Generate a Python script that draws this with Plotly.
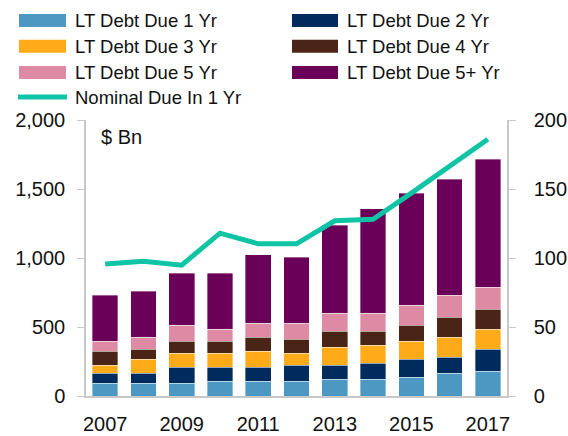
import plotly.graph_objects as go

# Datos ($ Bn, eje izquierdo) y linea nominal (eje derecho)
years = [2007, 2008, 2009, 2010, 2011, 2012, 2013, 2014, 2015, 2016, 2017]
due_1 = [92, 92, 92, 107, 107, 107, 121, 121, 136, 165, 179]
due_2 = [72, 72, 116, 102, 102, 116, 102, 117, 130, 116, 160]
due_3 = [58, 102, 102, 102, 116, 87, 131, 130, 131, 145, 144]
due_4 = [102, 73, 87, 87, 102, 102, 116, 102, 116, 145, 145]
due_5 = [73, 86, 116, 86, 102, 116, 131, 131, 145, 159, 159]
due_5p = [333, 334, 377, 406, 494, 479, 638, 755, 812, 842, 929]
nominal = [95.7, 97.7, 94.8, 118, 110.3, 110.3, 127, 128, 147, 166, 186]

bar_names = ['LT Debt Due 1 Yr', 'LT Debt Due 2 Yr', 'LT Debt Due 3 Yr',
             'LT Debt Due 4 Yr', 'LT Debt Due 5 Yr', 'LT Debt Due 5+ Yr']
bar_colors = ['#4d98c3', '#002b5c', '#ffab19', '#4a2416', '#de8aa4', '#6a0058']
line_name = 'Nominal Due In 1 Yr'
line_color = '#0fc4a5'

left_ticks = [0, 500, 1000, 1500, 2000]
right_ticks = [0, 50, 100, 150, 200]
x_ticks = [2007, 2009, 2011, 2013, 2015, 2017]

FONT = 'Liberation Sans'
W, H = 568, 436
ML, MR, MT, MB = 86, 61, 120, 40


def px(x):
    return (x - ML) / (W - ML - MR)


def py(y):
    return (H - MB - y) / (H - MT - MB)


fig = go.Figure()

for name, vals, color in zip(bar_names, [due_1, due_2, due_3, due_4, due_5, due_5p], bar_colors):
    fig.add_trace(go.Bar(x=years, y=vals, name=name, marker=dict(color=color, line=dict(color='rgba(255,255,255,0.6)', width=0.6)),
                         showlegend=False))

fig.add_trace(go.Scatter(x=years, y=nominal, name=line_name, mode='lines', yaxis='y2',
                         line=dict(color=line_color, width=5), showlegend=False))

# Leyenda dibujada a mano (muestras anchas como en la referencia)
shapes = []
annotations = []
cols = [(19, 66, 73), (292, 338, 345)]
rows = [20.5, 46.3, 72.5]
for i, (name, color) in enumerate(zip(bar_names, bar_colors)):
    x0, x1, tx = cols[i % 2]
    yc = rows[i // 2]
    shapes.append(dict(type='rect', xref='paper', yref='paper', x0=px(x0), x1=px(x1),
                       y0=py(yc - 6.5), y1=py(yc + 6.5), fillcolor=color, line=dict(width=0)))
    annotations.append(dict(text=name, xref='paper', yref='paper', x=px(tx), y=py(yc),
                            xanchor='left', yanchor='middle', showarrow=False,
                            font=dict(family=FONT, size=18.5, color='#111111')))
shapes.append(dict(type='line', xref='paper', yref='paper', x0=px(18), x1=px(67),
                   y0=py(97), y1=py(97), line=dict(color=line_color, width=5)))
annotations.append(dict(text=line_name, xref='paper', yref='paper', x=px(73), y=py(97),
                        xanchor='left', yanchor='middle', showarrow=False,
                        font=dict(family=FONT, size=18.5, color='#111111')))
annotations.append(dict(text='$ Bn', xref='paper', yref='paper', x=px(99), y=py(137),
                        xanchor='left', yanchor='middle', showarrow=False,
                        font=dict(family=FONT, size=20, color='#111111')))

axis_common = dict(showgrid=False, zeroline=False, showline=True, linecolor='#c8c8c8', linewidth=1.5,
                   automargin=False, tickfont=dict(family=FONT, size=20, color='#111111'))

fig.update_layout(
    width=W, height=H,
    barmode='stack', bargap=0.33,
    plot_bgcolor='white', paper_bgcolor='white',
    margin=dict(l=ML, r=MR, t=MT, b=MB),
    shapes=shapes, annotations=annotations,
    xaxis=dict(**axis_common, range=[2006.5, 2017.5], tickvals=x_ticks, ticks='', ticklabelstandoff=9),
    yaxis=dict(**axis_common, range=[0, 2000], tickvals=left_ticks, tickformat=',',
               ticks='outside', ticklen=7, tickcolor='#c8c8c8', ticklabelstandoff=8),
    yaxis2=dict(**axis_common, range=[0, 200], tickvals=right_ticks, overlaying='y', side='right',
                ticks='outside', ticklen=7, tickcolor='#c8c8c8', ticklabelstandoff=14),
)

fig.write_html("out.html", config={'displayModeBar': False},
               post_script="document.body.style.margin='0px';")
